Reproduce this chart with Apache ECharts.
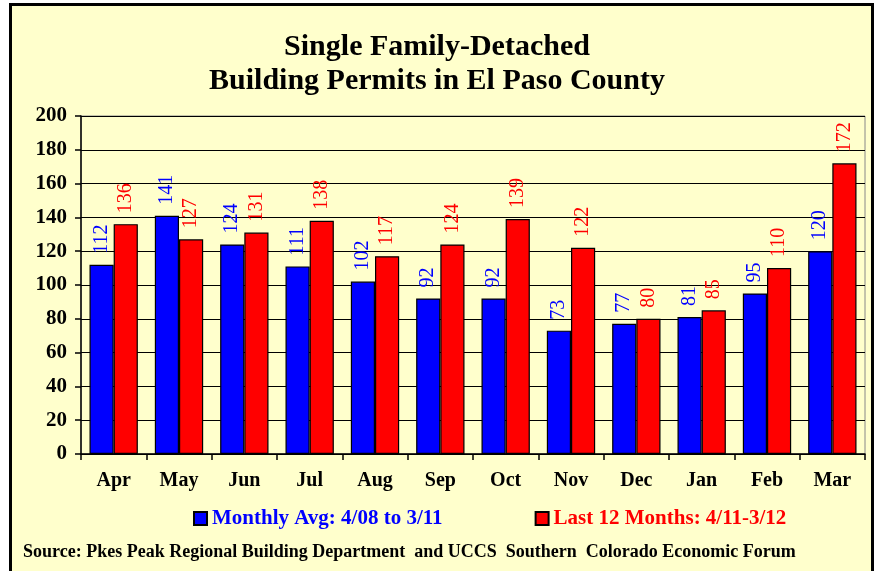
<!DOCTYPE html>
<html>
<head>
<meta charset="utf-8">
<script src="https://cdn.jsdelivr.net/npm/echarts@6/dist/echarts.min.js"></script>
<style>
  html, body { margin: 0; padding: 0; background: #FFFFFF; }
  #chart { width: 874px; height: 571px; }
</style>
</head>
<body>
<div id="chart"></div>
<script>
var months = ['Apr', 'May', 'Jun', 'Jul', 'Aug', 'Sep', 'Oct', 'Nov', 'Dec', 'Jan', 'Feb', 'Mar'];
var monthlyAvg = [112, 141, 124, 111, 102, 92, 92, 73, 77, 81, 95, 120];
var last12 = [136, 127, 131, 138, 117, 124, 139, 122, 80, 85, 110, 172];
var seriesNames = ['Monthly Avg: 4/08 to 3/11', 'Last 12 Months: 4/11-3/12'];

var serif = '"Liberation Serif", "Times New Roman", serif';
var chart = echarts.init(document.getElementById('chart'));

function barLabel(color) {
    return {
        show: true,
        position: 'top',
        rotate: 90,
        align: 'left',
        verticalAlign: 'middle',
        distance: 11,
        color: color,
        fontFamily: serif,
        fontSize: 20
    };
}

var option = {
    backgroundColor: '#FFFFFF',
    animation: false,
    title: {
        text: 'Single Family-Detached\nBuilding Permits in El Paso County',
        left: 'center',
        top: 25,
        textStyle: {
            fontFamily: serif,
            fontWeight: 'bold',
            fontSize: 30,
            lineHeight: 34,
            color: '#000'
        }
    },
    legend: {
        top: 508,
        left: 193,
        padding: 0,
        itemGap: 92,
        itemWidth: 13,
        itemHeight: 13,
        icon: 'rect',
        data: [
            { name: seriesNames[0], textStyle: { color: '#0000FF' } },
            { name: seriesNames[1], textStyle: { color: '#FF0000' } }
        ],
        textStyle: {
            fontFamily: serif,
            fontWeight: 'bold',
            fontSize: 21
        }
    },
    grid: {
        left: 81,
        right: 9,
        top: 116,
        bottom: 117,
        show: true,
        borderColor: '#888',
        borderWidth: 1,
        backgroundColor: 'transparent'
    },
    xAxis: {
        type: 'category',
        data: months,
        axisLine: { lineStyle: { color: '#000', width: 1.5 } },
        axisTick: { show: true, length: 6, lineStyle: { color: '#000', width: 1.5 } },
        axisLabel: {
            margin: 17,
            fontFamily: serif,
            fontWeight: 'bold',
            fontSize: 20,
            color: '#000'
        }
    },
    yAxis: {
        type: 'value',
        min: 0,
        max: 200,
        interval: 20,
        axisLine: { show: true, lineStyle: { color: '#000', width: 1.5 } },
        axisTick: { show: true, length: 6, lineStyle: { color: '#000', width: 1.5 } },
        splitLine: { lineStyle: { color: '#000', width: 1.2 } },
        axisLabel: {
            margin: 14,
            fontFamily: serif,
            fontWeight: 'bold',
            fontSize: 21,
            color: '#000'
        }
    },
    series: [
        {
            name: seriesNames[0],
            type: 'bar',
            data: monthlyAvg,
            barGap: '0%',
            barCategoryGap: '26%',
            itemStyle: { color: '#0000FF', borderColor: '#000', borderWidth: 1.2 },
            label: barLabel('#0000FF')
        },
        {
            name: seriesNames[1],
            type: 'bar',
            data: last12,
            itemStyle: { color: '#FF0000', borderColor: '#000', borderWidth: 1.2 },
            label: barLabel('#FF0000')
        }
    ],
    graphic: [
        {
            type: 'rect',
            z: -10,
            shape: { x: 10.5, y: 4.5, width: 862, height: 572 },
            style: { fill: '#FFFFCC', stroke: '#000', lineWidth: 3 },
            silent: true
        },
        {
            type: 'text',
            left: 23,
            top: 543,
            style: {
                text: 'Source: Pkes Peak Regional Building Department  and UCCS  Southern  Colorado Economic Forum',
                fontFamily: serif,
                fontWeight: 'bold',
                fontSize: 18,
                fill: '#000'
            }
        }
    ]
};

chart.setOption(option);
</script>
</body>
</html>
